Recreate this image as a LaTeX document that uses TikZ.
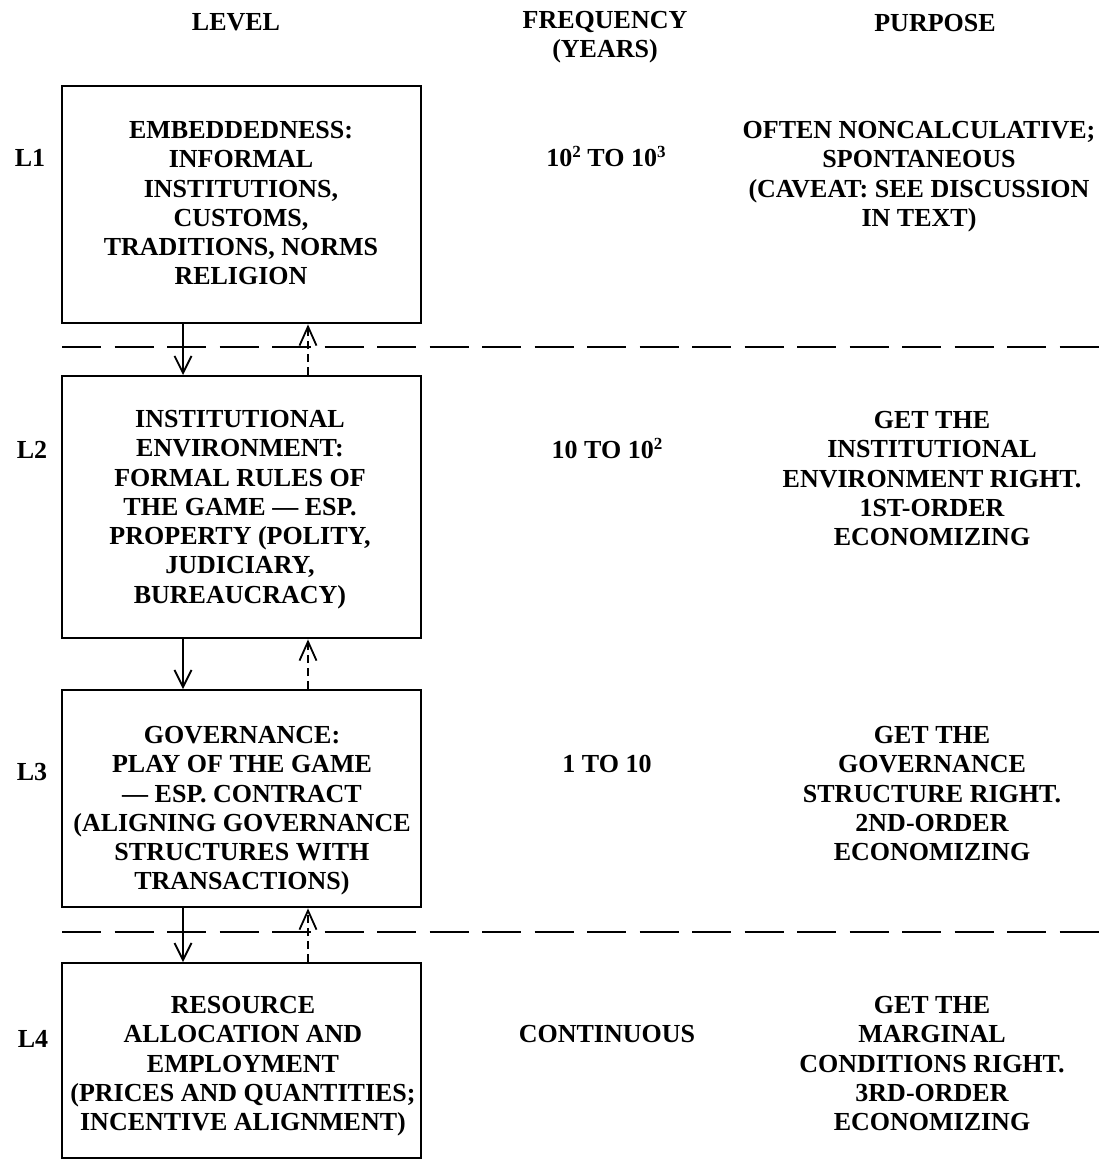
\documentclass[tikz,border=0pt]{standalone}
\usepackage{fontspec}
\setmainfont{Liberation Serif}
\usetikzlibrary{arrows.meta}
\newcommand{\supnum}[1]{\raisebox{9pt}{\fontsize{17}{17}\selectfont #1}}
\tikzset{
  txt/.style={font=\bfseries\fontsize{26}{29.3}\selectfont, inner sep=0pt, align=center, text=black},
  levelbox/.style={draw=black, line width=2.4pt, inner sep=0pt},
  downarr/.style={line width=1.8pt, -{Straight Barb[length=17pt,width=17pt,line width=1.8pt]}},
  uparr/.style={line width=1.8pt, dash pattern=on 8pt off 5pt, -{Straight Barb[length=19pt,width=17pt,line width=1.8pt]}},
  seprule/.style={line width=2.6pt, dash pattern=on 39pt off 13.5pt},
}
\begin{document}
\begin{tikzpicture}[x=1pt,y=-1pt]
\useasboundingbox[fill=white] (0,0) rectangle (1099,1161);

% headers
\node[txt, anchor=base] (hlevel) at (236,31) {LEVEL};
\node[txt, anchor=base] (hfreq) at (605,29) {FREQUENCY};
\node[txt, anchor=base] (hyears) at (605,58) {(YEARS)};
\node[txt, anchor=base] (hpurp) at (935,32) {PURPOSE};

% level labels
\node[txt, anchor=base] (l1) at (30,167) {L1};
\node[txt, anchor=base] (l2) at (32,458) {L2};
\node[txt, anchor=base] (l3) at (32,780) {L3};
\node[txt, anchor=base] (l4) at (33,1047) {L4};

% boxes
\node[levelbox, anchor=north west, minimum width=359pt, minimum height=237pt] (b1) at (61,85) {};
\node[levelbox, anchor=north west, minimum width=359pt, minimum height=262pt] (b2) at (61,375) {};
\node[levelbox, anchor=north west, minimum width=359pt, minimum height=217pt] (b3) at (61,689) {};
\node[levelbox, anchor=north west, minimum width=359pt, minimum height=195pt] (b4) at (61,962) {};

% box texts (north anchor = cap top of first line)
\node[txt, anchor=north] (t1) at (241,121) {EMBEDDEDNESS:\\INFORMAL\\INSTITUTIONS,\\CUSTOMS,\\TRADITIONS, NORMS\\RELIGION};
\node[txt, anchor=north] (t2) at (240,410) {INSTITUTIONAL\\ENVIRONMENT:\\FORMAL RULES OF\\THE GAME --- ESP.\\PROPERTY (POLITY,\\JUDICIARY,\\BUREAUCRACY)};
\node[txt, anchor=north] (t3) at (242,726) {GOVERNANCE:\\PLAY OF THE GAME\\--- ESP. CONTRACT\\(ALIGNING GOVERNANCE\\STRUCTURES WITH\\TRANSACTIONS)};
\node[txt, anchor=north] (t4) at (243,996) {RESOURCE\\ALLOCATION AND\\EMPLOYMENT\\(PRICES AND QUANTITIES;\\INCENTIVE ALIGNMENT)};

% frequency column
\node[txt, anchor=base] (f1) at (606,167) {10\supnum{2} TO 10\supnum{3}};
\node[txt, anchor=base] (f2) at (607,458) {10 TO 10\supnum{2}};
\node[txt, anchor=base] (f3) at (607,772) {1 TO 10};
\node[txt, anchor=base] (f4) at (607,1042) {CONTINUOUS};

% purpose column
\node[txt, anchor=north] (p1) at (919,121) {OFTEN NONCALCULATIVE;\\SPONTANEOUS\\(CAVEAT: SEE DISCUSSION\\IN TEXT)};
\node[txt, anchor=north] (p2) at (932,411) {GET THE\\INSTITUTIONAL\\ENVIRONMENT RIGHT.\\1ST-ORDER\\ECONOMIZING};
\node[txt, anchor=north] (p3) at (932,726) {GET THE\\GOVERNANCE\\STRUCTURE RIGHT.\\2ND-ORDER\\ECONOMIZING};
\node[txt, anchor=north] (p4) at (932,996) {GET THE\\MARGINAL\\CONDITIONS RIGHT.\\3RD-ORDER\\ECONOMIZING};

% dashed separators
\coordinate (s1a) at (62,347);
\coordinate (s1b) at (1099,347);
\coordinate (s2a) at (62,932);
\coordinate (s2b) at (1099,932);
\draw[seprule] (s1a) -- (s1b);
\draw[seprule] (s2a) -- (s2b);

% arrows between levels
\draw[downarr] ([xshift=122pt]b1.south west) -- ([xshift=122pt]b2.north west);
\draw[uparr] ([xshift=247pt]b2.north west) -- ([xshift=247pt]b1.south west);
\draw[downarr] ([xshift=122pt]b2.south west) -- ([xshift=122pt]b3.north west);
\draw[uparr] ([xshift=247pt]b3.north west) -- ([xshift=247pt]b2.south west);
\draw[downarr] ([xshift=122pt]b3.south west) -- ([xshift=122pt]b4.north west);
\draw[uparr] ([xshift=247pt]b4.north west) -- ([xshift=247pt]b3.south west);
\end{tikzpicture}
\end{document}
